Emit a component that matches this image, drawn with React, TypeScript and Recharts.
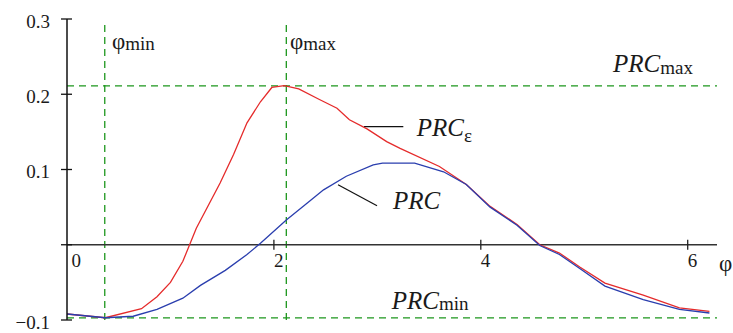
import {
  ComposedChart,
  Line,
  ReferenceDot,
  ReferenceLine,
  XAxis,
  YAxis,
} from "recharts";

const WIDTH = 733;
const HEIGHT = 333;

// PRC_ε — red curve
const prcEpsPhi = [
  0, 0.37, 0.72, 0.87, 1.0, 1.12, 1.25, 1.48, 1.61, 1.74, 1.87, 1.98, 2.1,
  2.24, 2.44, 2.61, 2.73, 2.9, 3.09, 3.22, 3.6, 3.86, 4.09, 4.35, 4.57, 4.76,
  4.96, 5.2, 5.57, 5.92, 6.21,
];
const prcEpsVal = [
  -0.092, -0.097, -0.085, -0.069, -0.05, -0.022, 0.022, 0.082, 0.12, 0.162,
  0.19, 0.209, 0.2115, 0.207, 0.193, 0.1815, 0.166, 0.154, 0.137, 0.128,
  0.104, 0.08, 0.051, 0.027, 0.0, -0.011, -0.03, -0.051, -0.067, -0.084,
  -0.0885,
];

// PRC — blue curve
const prcPhi = [
  0, 0.37, 0.64, 0.87, 1.12, 1.29, 1.53, 1.74, 1.87, 2.12, 2.32, 2.48, 2.7,
  2.96, 3.05, 3.36, 3.64, 3.86, 4.09, 4.35, 4.57, 4.76, 4.96, 5.2, 5.57, 5.92,
  6.21,
];
const prcVal = [
  -0.092, -0.097, -0.095, -0.086, -0.071, -0.054, -0.034, -0.013, 0.002,
  0.033, 0.055, 0.073, 0.091, 0.106, 0.1085, 0.1085, 0.097, 0.08, 0.05, 0.026,
  -0.001, -0.013, -0.032, -0.055, -0.073, -0.086, -0.0907,
];

const xTicks = [0, 2, 4, 6];
const yTicks = [-0.1, 0, 0.1, 0.2, 0.3];
const yTickLabels = ["−0.1", "", "0.1", "0.2", "0.3"];

const PHI_MIN = 0.365;
const PHI_MAX = 2.12;
const PRC_MAX = 0.211;
const PRC_MIN = -0.0973;

const prcEpsData = prcEpsPhi.map((phi, i) => ({ phi, v: prcEpsVal[i] }));
const prcData = prcPhi.map((phi, i) => ({ phi, v: prcVal[i] }));

const FONT = "Liberation Serif, Times New Roman, serif";
const TEXT = "#1a1a1a";
const GREEN = "#1c961c";
const RED = "#e52b2b";
const BLUE = "#2a3eae";

function YTick({ x, y, payload }: any) {
  const label = yTickLabels[yTicks.indexOf(payload.value)] ?? "";
  return (
    <g>
      <line x1={x - 6} x2={x + 5} y1={y} y2={y} stroke="#111" strokeWidth={1.3} />
      <text
        x={x - 17}
        y={y + 8.7}
        textAnchor="end"
        style={{ fontFamily: FONT, fontSize: 19 }}
        fill={TEXT}
      >
        {label}
      </text>
    </g>
  );
}

// text pinned to a data point; main part + smaller subscript
const note = (
  key: string,
  phi: number,
  v: number,
  main: string,
  sub: string,
  italic: boolean,
  mainSize: number,
  subDy = 1,
) => (
  <ReferenceDot
    key={key}
    x={phi}
    y={v}
    ifOverflow="visible"
    shape={(p: any) => (
      <text x={p.cx} y={p.cy} style={{ fontFamily: FONT }} fill={TEXT}>
        <tspan
          style={{ fontSize: mainSize, fontStyle: italic ? "italic" : "normal" }}
        >
          {main}
        </tspan>
        {sub && (
          <tspan style={{ fontSize: 19 }} dy={subDy}>
            {sub}
          </tspan>
        )}
      </text>
    )}
  />
);

export default function App() {
  return (
    <div style={{ position: "absolute", left: 0, top: 0, fontFamily: FONT }}>
      <ComposedChart
        width={WIDTH}
        height={HEIGHT}
        margin={{ top: 19, right: 16, bottom: 13, left: 17 }}
      >
        <XAxis
          type="number"
          dataKey="phi"
          domain={[0, 2 * Math.PI]}
          allowDataOverflow
          hide
        />
        <YAxis
          type="number"
          domain={[-0.1, 0.3]}
          ticks={yTicks}
          width={50}
          tickSize={0}
          tickMargin={0}
          tickLine={false}
          axisLine={{ stroke: "#111", strokeWidth: 1.5 }}
          tick={<YTick />}
        />

        {/* guide lines */}
        <ReferenceLine
          segment={[
            { x: PHI_MIN, y: -0.1 },
            { x: PHI_MIN, y: 0.297 },
          ]}
          stroke={GREEN}
          strokeWidth={1.3}
          strokeDasharray="7 5"
        />
        <ReferenceLine
          segment={[
            { x: PHI_MAX, y: -0.1 },
            { x: PHI_MAX, y: 0.297 },
          ]}
          stroke={GREEN}
          strokeWidth={1.3}
          strokeDasharray="7 5"
        />
        <ReferenceLine
          y={PRC_MAX}
          stroke={GREEN}
          strokeWidth={1.3}
          strokeDasharray="7 5"
        />
        <ReferenceLine
          y={PRC_MIN}
          stroke={GREEN}
          strokeWidth={1.3}
          strokeDasharray="7 5"
        />

        {/* x axis through zero */}
        <ReferenceLine y={0} stroke="#333" strokeWidth={1.6} />
        {xTicks.map((t) => (
          <ReferenceDot
            key={"xt" + t}
            x={t}
            y={0}
            ifOverflow="visible"
            shape={(p: any) => (
              <g>
                {t !== 0 && (
                  <line
                    x1={p.cx}
                    x2={p.cx}
                    y1={p.cy - 5}
                    y2={p.cy + 5}
                    stroke="#222"
                    strokeWidth={1.3}
                  />
                )}
                <text
                  x={p.cx + (t === 0 ? 4.5 : 0)}
                  y={p.cy + 22.5}
                  style={{ fontFamily: FONT, fontSize: 19 }}
                  fill={TEXT}
                >
                  {t}
                </text>
              </g>
            )}
          />
        ))}

        {/* leader lines */}
        <ReferenceLine
          segment={[
            { x: 2.871, y: 0.1571 },
            { x: 3.251, y: 0.1571 },
          ]}
          stroke="#111"
          strokeWidth={1.2}
        />
        <ReferenceLine
          segment={[
            { x: 2.62, y: 0.0797 },
            { x: 2.997, y: 0.0518 },
          ]}
          stroke="#111"
          strokeWidth={1.2}
        />

        <Line
          data={prcEpsData}
          dataKey="v"
          type="linear"
          stroke={RED}
          strokeWidth={1.3}
          dot={false}
          isAnimationActive={false}
        />
        <Line
          data={prcData}
          dataKey="v"
          type="linear"
          stroke={BLUE}
          strokeWidth={1.3}
          dot={false}
          isAnimationActive={false}
        />

        {note("phimin", 0.435, 0.26, "φ", "min", false, 23)}
        {note("phimax", 2.156, 0.26, "φ", "max", false, 23)}
        {note("prcmax", 5.278, 0.229, "PRC", "max", true, 25, 2)}
        {note("prceps", 3.38, 0.1448, "PRC", "ε", true, 25, 6)}
        {note("prc", 3.151, 0.0478, "PRC", "", true, 25)}
        {note("prcmin", 3.139, -0.085, "PRC", "min", true, 25, 1)}
        {note("phiaxis", 6.302, -0.035, "φ", "", false, 23)}
      </ComposedChart>
    </div>
  );
}
